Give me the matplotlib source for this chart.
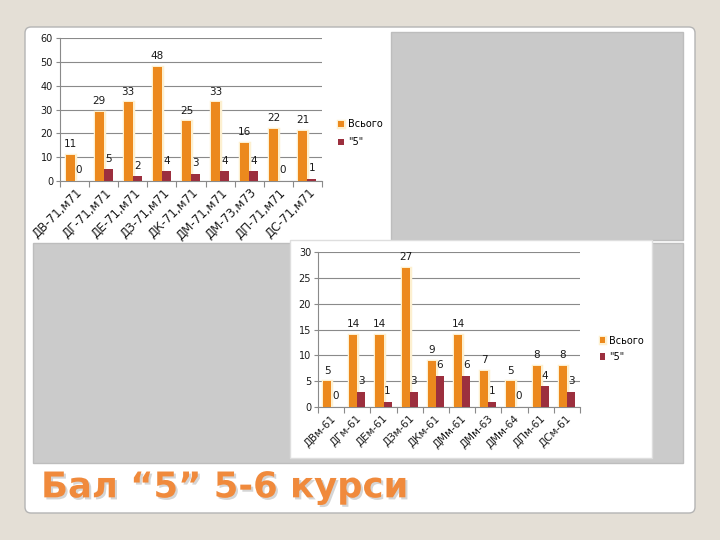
import matplotlib
matplotlib.use("Agg")
import matplotlib.pyplot as plt
import matplotlib.patches as mpatches
import matplotlib.patheffects as pe
import matplotlib.transforms as mtransforms
import numpy as np

# ---------------- data ----------------
cats1 = ["ДВ-71,м71", "ДГ-71,м71", "ДЕ-71,м71", "ДЗ-71,м71", "ДК-71,м71",
         "ДМ-71,м71", "ДМ-73,м73", "ДП-71,м71", "ДС-71,м71"]
total1 = [11, 29, 33, 48, 25, 33, 16, 22, 21]
five1 = [0, 5, 2, 4, 3, 4, 4, 0, 1]

cats2 = ["ДВм-61", "ДГм-61", "ДЕм-61", "ДЗм-61", "ДКм-61",
         "ДМм-61", "ДМм-63", "ДМм-64", "ДПм-61", "ДСм-61"]
total2 = [5, 14, 14, 27, 9, 14, 7, 5, 8, 8]
five2 = [0, 3, 1, 3, 6, 6, 1, 0, 4, 3]

series_names = ["Всього", "\"5\""]
title = "Бал “5” 5-6 курси"

ORANGE = "#EC891D"
MAROON = "#9C2F3E"
GRID = "#8a8a8a"

plt.rcParams['font.family'] = ['DejaVu Sans']

fig = plt.figure(figsize=(7.2, 5.4), dpi=100)
fig.patch.set_facecolor("#e4dfd6")

# background axes in pixel coordinates
bg = fig.add_axes([0, 0, 1, 1], zorder=0)
bg.set_xlim(0, 720)
bg.set_ylim(540, 0)
bg.axis("off")
bg.add_patch(mpatches.FancyBboxPatch((25, 27), 670, 486,
                                     boxstyle="round,pad=0,rounding_size=6",
                                     fc="white", ec="#b4b4b4", lw=1.0))
bg.add_patch(mpatches.Rectangle((391, 32), 292, 208, fc="#c9c9c9", ec="#bdbdbd", lw=1.0))
bg.add_patch(mpatches.Rectangle((33, 243), 650, 220, fc="#cbcbcb", ec="#bdbdbd", lw=1.0))
bg.add_patch(mpatches.Rectangle((290, 240), 362, 218, fc="white", ec="#dedede", lw=1.0))


def draw_chart(rect, cats, total, five, ymax, ystep, legend_anchor, lspacing,
               xlab_size, xshift):
    ax = fig.add_axes(rect, zorder=2)
    ax.set_facecolor("none")
    n = len(cats)
    x = np.arange(n)
    w = 0.31
    b1 = ax.bar(x - w / 2, total, w, color=ORANGE, label=series_names[0], zorder=3)
    b2 = ax.bar(x + w / 2, five, w, color=MAROON, label=series_names[1], zorder=3)
    for bar in b1:
        bar.set_path_effects([pe.Stroke(linewidth=2.5, foreground="#fdf0d0"), pe.Normal()])
    for bars, vals in ((b1, total), (b2, five)):
        for bar, v in zip(bars, vals):
            ax.annotate(str(v), (bar.get_x() + bar.get_width() / 2, v),
                        xytext=(0, 4), textcoords="offset points",
                        ha="center", va="bottom", fontsize=7.5, color="#1a1a1a")
    ax.set_xlim(-0.5, n - 0.5)
    ax.set_ylim(0, ymax)
    ax.set_yticks(np.arange(0, ymax + 1, ystep))
    ax.yaxis.grid(True, color=GRID, lw=0.8)
    ax.set_axisbelow(True)
    for s in ("top", "right"):
        ax.spines[s].set_visible(False)
    for s in ("left", "bottom"):
        ax.spines[s].set_color(GRID)
        ax.spines[s].set_linewidth(0.8)
    ax.tick_params(axis="y", labelsize=7, colors="#1a1a1a", length=3, width=0.8,
                   color=GRID, pad=2)
    ax.set_xticks(x)
    ax.set_xticklabels(cats, rotation=45, ha="right", va="center",
                       rotation_mode="anchor", fontsize=xlab_size, color="#1a1a1a")
    ax.tick_params(axis="x", which="major", length=0, pad=7)
    off = mtransforms.ScaledTranslation(xshift / 72, 0, fig.dpi_scale_trans)
    for lab in ax.get_xticklabels():
        lab.set_transform(lab.get_transform() + off)
    ax.set_xticks(np.arange(-0.5, n, 1.0), minor=True)
    ax.tick_params(axis="x", which="minor", length=4, width=0.8, color=GRID)
    ax.legend(loc="center left", bbox_to_anchor=legend_anchor,
              bbox_transform=fig.transFigure, frameon=False, fontsize=7,
              handlelength=0.6, handleheight=0.6, handletextpad=0.4,
              labelspacing=lspacing, borderpad=0)
    return ax


draw_chart([0.0833, 0.6648, 0.3639, 0.2648], cats1, total1, five1, 60, 10,
           (0.463, 0.753), 0.8, 8.5, 4)
draw_chart([0.4417, 0.2463, 0.3639, 0.2870], cats2, total2, five2, 30, 5,
           (0.826, 0.354), 0.65, 7.5, 2)

fig.text(0.057, 0.079, title, fontsize=25.5, fontweight="bold", color="#F08A3C",
         ha="left", va="baseline", zorder=5,
         path_effects=[pe.withSimplePatchShadow(offset=(1.5, -1.5),
                                                shadow_rgbFace="#888888", alpha=0.35)])

fig.savefig("out.png", dpi=100, facecolor=fig.get_facecolor())
